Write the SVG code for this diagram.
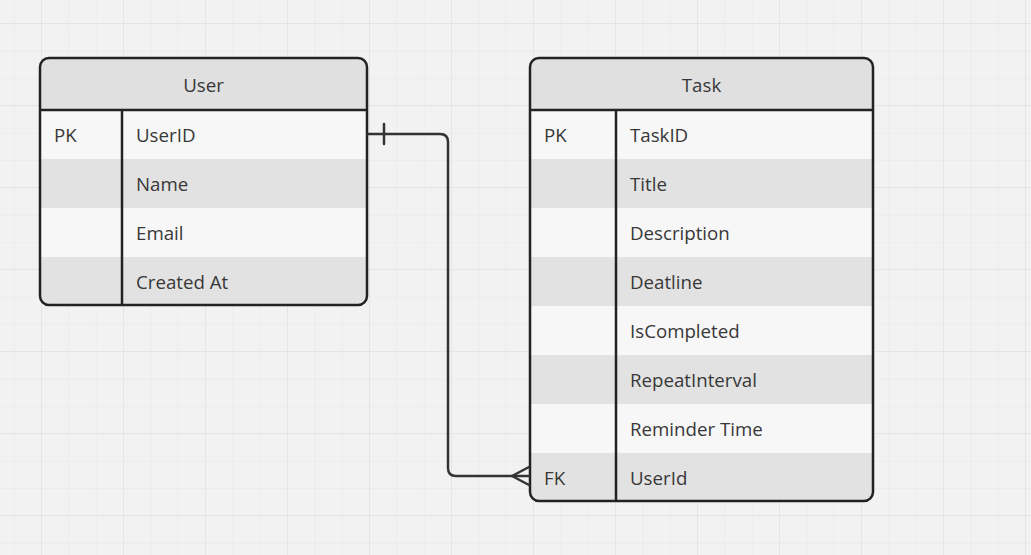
<svg xmlns="http://www.w3.org/2000/svg" width="1031" height="555" viewBox="0 0 1031 555">
<defs>
<pattern id="minor" x="13.67" y="-4" width="27.333" height="27.333" patternUnits="userSpaceOnUse">
<path d="M0 0 V27.333 M0 0 H27.333" fill="none" stroke="#e7e7e7" stroke-width="1"/>
</pattern>
<pattern id="major" x="41" y="23" width="82" height="82" patternUnits="userSpaceOnUse">
<path d="M0 0 V82 M0 0 H82" fill="none" stroke="#e2e2e2" stroke-width="1.5"/>
</pattern>
<clipPath id="cu"><rect x="40" y="58" width="327" height="247" rx="9"/></clipPath>
<clipPath id="ct"><rect x="530" y="58" width="343" height="443" rx="9"/></clipPath>
</defs>
<style>
.t{font-family:"Open Sans","Noto Sans","Liberation Sans",sans-serif;font-size:18.7px;fill:#383838;}
.hd{fill:#e0e0e0;}
.lt{fill:#f7f7f7;}
.dk{fill:#e2e2e2;}
.bd{fill:none;stroke:#222;stroke-width:2.5;}
.ln{fill:none;stroke:#222;stroke-width:2.5;}
.cn{fill:none;stroke:#333;stroke-width:2.5;stroke-linecap:round;stroke-linejoin:round;}
</style>
<rect width="1031" height="555" fill="#f2f2f2"/>
<rect width="1031" height="555" fill="url(#minor)"/>
<rect width="1031" height="555" fill="url(#major)"/>

<g id="user">
<g clip-path="url(#cu)">
<rect class="hd" x="40" y="58" width="327" height="52"/>
<rect class="lt" x="40" y="110" width="327" height="49"/>
<rect class="dk" x="40" y="159" width="327" height="49"/>
<rect class="lt" x="40" y="208" width="327" height="49"/>
<rect class="dk" x="40" y="257" width="327" height="48"/>
</g>
<line class="ln" x1="40" y1="110" x2="367" y2="110"/>
<line class="ln" x1="122" y1="110" x2="122" y2="305"/>
<rect class="bd" x="40" y="58" width="327" height="247" rx="9"/>
<text class="t" x="203.5" y="92" text-anchor="middle">User</text>
<text class="t" x="54" y="142">PK</text>
<text class="t" x="136" y="142">UserID</text>
<text class="t" x="136" y="191">Name</text>
<text class="t" x="136" y="240">Email</text>
<text class="t" x="136" y="289">Created At</text>
</g>

<g id="task">
<g clip-path="url(#ct)">
<rect class="hd" x="530" y="58" width="343" height="52"/>
<rect class="lt" x="530" y="110" width="343" height="49"/>
<rect class="dk" x="530" y="159" width="343" height="49"/>
<rect class="lt" x="530" y="208" width="343" height="49"/>
<rect class="dk" x="530" y="257" width="343" height="49"/>
<rect class="lt" x="530" y="306" width="343" height="49"/>
<rect class="dk" x="530" y="355" width="343" height="49"/>
<rect class="lt" x="530" y="404" width="343" height="49"/>
<rect class="dk" x="530" y="453" width="343" height="48"/>
</g>
<line class="ln" x1="530" y1="110" x2="873" y2="110"/>
<line class="ln" x1="616" y1="110" x2="616" y2="501"/>
<rect class="bd" x="530" y="58" width="343" height="443" rx="9"/>
<text class="t" x="701.5" y="92" text-anchor="middle">Task</text>
<text class="t" x="544" y="142">PK</text>
<text class="t" x="630" y="142">TaskID</text>
<text class="t" x="630" y="191">Title</text>
<text class="t" x="630" y="240">Description</text>
<text class="t" x="630" y="289">Deatline</text>
<text class="t" x="630" y="338">IsCompleted</text>
<text class="t" x="630" y="387">RepeatInterval</text>
<text class="t" x="630" y="436">Reminder Time</text>
<text class="t" x="544" y="485">FK</text>
<text class="t" x="630" y="485">UserId</text>
</g>

<g id="connectors">
<path class="cn" d="M368 134 H440 Q448 134 448 142 V468 Q448 476 456 476 H529"/>
<line class="cn" x1="384" y1="124" x2="384" y2="144"/>
<path class="cn" d="M529 467 L512 476 L529 485"/>
</g>
</svg>
